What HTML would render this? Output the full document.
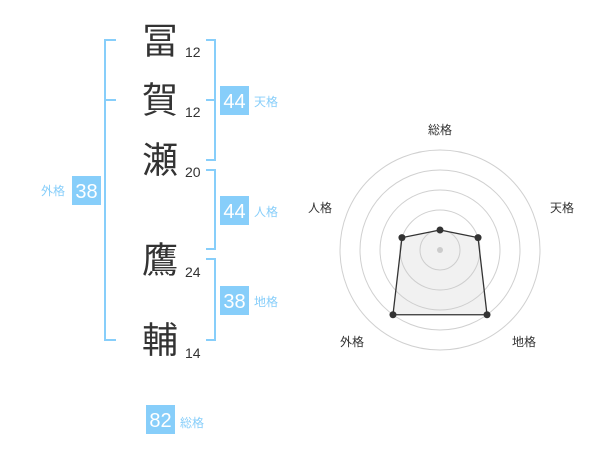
<!DOCTYPE html>
<html><head><meta charset="utf-8"><style>
html,body{margin:0;padding:0;background:#fff;}
svg{display:block;}
</style></head><body>
<svg width="600" height="470" xmlns="http://www.w3.org/2000/svg" font-family="'Liberation Sans','Noto Sans CJK JP',sans-serif">
<rect width="600" height="470" fill="#fff"/>
<g stroke="#87cefa" stroke-width="2" fill="none">
<path d="M116,40 H105 V340 H116"/>
<path d="M105,100 H116"/>
<path d="M206,40 H215 V160 H206"/>
<path d="M206,100 H215"/>
<path d="M206,170 H215 V249 H206"/>
<path d="M206,259 H215 V340 H206"/>
</g>
<g fill="#333" font-size="36" text-anchor="middle" dominant-baseline="central">
<text x="160" y="41">冨</text>
<text x="160" y="100">賀</text>
<text x="160" y="160">瀬</text>
<text x="160" y="260">鷹</text>
<text x="160" y="340">輔</text>
</g>
<g fill="#333" font-size="14">
<text x="185" y="57">12</text>
<text x="185" y="117">12</text>
<text x="185" y="177">20</text>
<text x="185" y="277">24</text>
<text x="185" y="358">14</text>
</g>
<g fill="#87cefa">
<rect x="220" y="86" width="29" height="29"/>
<rect x="220" y="196" width="29" height="29"/>
<rect x="220" y="286" width="29" height="29"/>
<rect x="72" y="176" width="29" height="29"/>
<rect x="146" y="405" width="29" height="29"/>
</g>
<g fill="#fff" font-size="20" text-anchor="middle">
<text x="234.5" y="108">44</text>
<text x="234.5" y="218">44</text>
<text x="234.5" y="308">38</text>
<text x="86.5" y="198">38</text>
<text x="160.5" y="427">82</text>
</g>
<g fill="#87cefa" font-size="12" dominant-baseline="central">
<text x="254" y="102">天格</text>
<text x="254" y="212">人格</text>
<text x="254" y="302">地格</text>
<text x="41" y="191">外格</text>
<text x="180" y="423">総格</text>
</g>
<g stroke="#d0d0d0" stroke-width="1" fill="none">
<circle cx="440" cy="250" r="100"/>
<circle cx="440" cy="250" r="80"/>
<circle cx="440" cy="250" r="60"/>
<circle cx="440" cy="250" r="40"/>
<circle cx="440" cy="250" r="20"/>
</g>
<polygon points="440,230 478.04,237.64 487.02,314.72 392.98,314.72 401.96,237.64" fill="rgba(200,200,200,0.25)" stroke="#333" stroke-width="1.3"/>
<circle cx="440" cy="250" r="3" fill="#ccc"/>
<g fill="#333">
<circle cx="440" cy="230" r="3.5"/>
<circle cx="478.04" cy="237.64" r="3.5"/>
<circle cx="487.02" cy="314.72" r="3.5"/>
<circle cx="392.98" cy="314.72" r="3.5"/>
<circle cx="401.96" cy="237.64" r="3.5"/>
</g>
<g fill="#333" font-size="12" text-anchor="middle" dominant-baseline="central">
<text x="440" y="130">総格</text>
<text x="562" y="208">天格</text>
<text x="320" y="208">人格</text>
<text x="352" y="342">外格</text>
<text x="524" y="342">地格</text>
</g>
</svg>
</body></html>
